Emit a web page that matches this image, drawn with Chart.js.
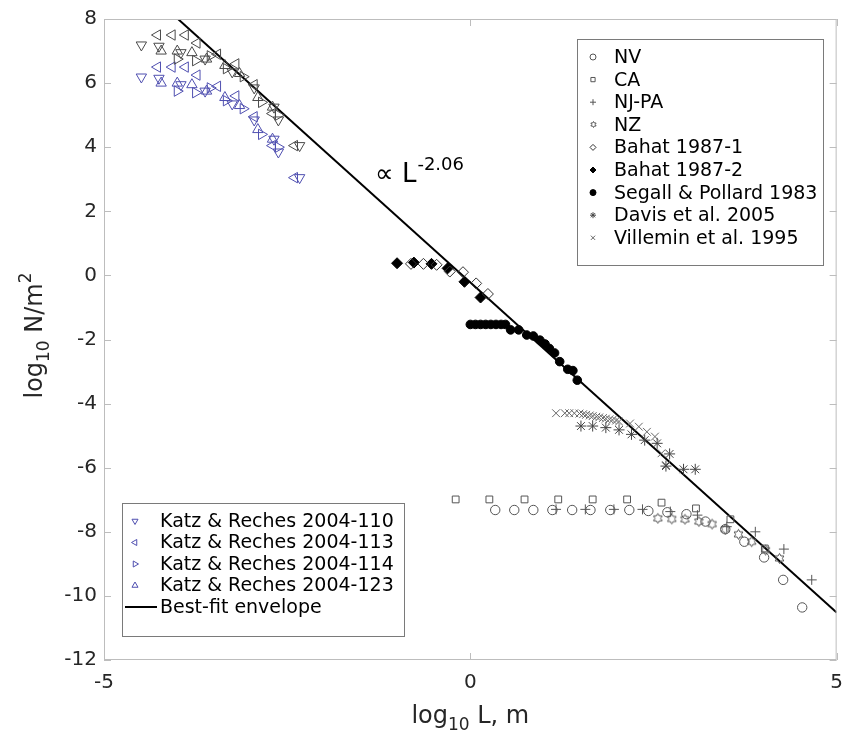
<!DOCTYPE html>
<html>
<head>
<meta charset="utf-8">
<script src="https://cdn.jsdelivr.net/npm/chart.js@4.4.1/dist/chart.umd.min.js"></script>
<style>
  html, body { margin: 0; padding: 0; background: #fff; }
  #wrap { width: 854px; height: 733px; }
</style>
</head>
<body>
<div id="wrap"><canvas id="chart" width="854" height="733"></canvas></div>
<script>
// ===== Data: log10 L (m) vs log10 N/m^2 =====
const nvX = [0.34, 0.60, 0.86, 1.12, 1.39, 1.64, 1.91, 2.17, 2.43, 2.69, 2.95, 3.21, 3.48, 3.74, 4.01, 4.27, 4.53];
const nvY = [-7.32, -7.32, -7.32, -7.32, -7.32, -7.32, -7.32, -7.32, -7.35, -7.39, -7.45, -7.68, -7.92, -8.31, -8.80, -9.50, -10.36];

const caX = [-0.20, 0.26, 0.74, 1.20, 1.67, 2.14, 2.61, 3.08, 3.55, 4.02];
const caY = [-6.99, -6.99, -6.99, -6.99, -6.99, -6.99, -7.09, -7.27, -7.61, -8.52];

const njX = [1.17, 1.57, 1.96, 2.35, 2.73, 3.10, 3.50, 3.89, 4.28, 4.66];
const njY = [-7.30, -7.30, -7.30, -7.30, -7.37, -7.48, -7.84, -8.00, -8.54, -9.50];

const nzX = [2.56, 2.75, 2.93, 3.12, 3.30, 3.48, 3.66, 3.84, 4.03, 4.22];
const nzY = [-7.58, -7.60, -7.61, -7.68, -7.76, -7.92, -8.08, -8.31, -8.57, -8.83];

const bahat1X = [-0.81, -0.64, -0.46, -0.28, -0.10, 0.08, 0.24];
const bahat1Y = [0.36, 0.36, 0.33, 0.12, 0.10, -0.25, -0.58];

const bahat2X = [-1.00, -0.77, -0.53, -0.31, -0.08, 0.14];
const bahat2Y = [0.38, 0.40, 0.36, 0.22, -0.20, -0.69];

const segallX = [0.00, 0.07, 0.14, 0.21, 0.28, 0.35, 0.42, 0.48, 0.55, 0.66, 0.77, 0.86, 0.95, 1.02, 1.08, 1.15, 1.22, 1.33, 1.40, 1.46];
const segallY = [-1.53, -1.53, -1.53, -1.53, -1.53, -1.53, -1.53, -1.53, -1.70, -1.70, -1.86, -1.89, -2.02, -2.14, -2.28, -2.42, -2.69, -2.93, -2.97, -3.27];

const davisX = [1.51, 1.67, 1.85, 2.03, 2.20, 2.38, 2.55, 2.72, 2.67, 2.91, 3.07];
const davisY = [-4.70, -4.70, -4.75, -4.82, -4.96, -5.14, -5.24, -5.57, -5.95, -6.05, -6.05];

const villeminX = [1.17, 1.29, 1.35, 1.42, 1.49, 1.54, 1.58, 1.63, 1.67, 1.72, 1.76, 1.81, 1.85, 1.90, 1.94, 1.99, 2.03, 2.18, 2.30, 2.41, 2.52, 2.61, 2.67];
const villeminY = [-4.30, -4.30, -4.30, -4.30, -4.31, -4.33, -4.35, -4.37, -4.39, -4.41, -4.43, -4.45, -4.47, -4.49, -4.51, -4.53, -4.56, -4.62, -4.72, -4.88, -5.03, -5.55, -5.92];

// Katz & Reches: blue points and the grey (upper) copies
const k110X = [-4.49, -4.25, -3.95, -3.62, -3.25, -2.95, -2.68, -2.62, -2.33];
const k110Grey = [7.19, 7.15, 6.95, 6.75, 6.35, 5.85, 5.25, 4.85, 4.05];
const k110Blue = [6.19, 6.15, 5.95, 5.75, 5.35, 4.85, 4.25, 3.85, 3.05];

const k113X = [-4.27, -4.07, -3.89, -3.73, -3.45, -3.20, -2.95, -2.70, -2.40];
const k113Grey = [7.50, 7.50, 7.50, 7.25, 6.90, 6.60, 5.95, 5.05, 4.05];
const k113Blue = [6.50, 6.50, 6.50, 6.25, 5.90, 5.60, 4.95, 4.05, 3.05];

const k114X = [-4.00, -3.75, -3.55, -3.33, -3.10, -2.85, -2.62];
const k114Grey = [6.75, 6.70, 6.85, 6.45, 6.20, 5.40, 5.00];
const k114Blue = [5.75, 5.70, 5.85, 5.45, 5.20, 4.40, 4.00];

const k123X = [-4.22, -4.00, -3.80, -3.60, -3.35, -3.15, -2.90, -2.70];
const k123Grey = [7.00, 7.00, 6.95, 6.75, 6.55, 6.30, 5.55, 5.25];
const k123Blue = [6.00, 6.00, 5.95, 5.75, 5.55, 5.30, 4.55, 4.25];

// best-fit envelope end points, slope -2.06
const fitX = [-3.99, 5.00];
const fitY = [8.00, -10.52];

const xTicks = [-5, 0, 5];
const yTicks = [-12, -10, -8, -6, -4, -2, 0, 2, 4, 6, 8];

// ===== Helpers =====
const FONT = '"DejaVu Sans", "Liberation Sans", Arial, sans-serif';
const GREY = '#555555';
const BLUE = '#4f4fb0';
const NONE = 'rgba(0,0,0,0)';

const pts = (xs, ys) => xs.map((x, i) => ({ x: x, y: ys[i] }));

function hexagram(r, color) {
    const s = Math.ceil(r * 2 + 3);
    const c = document.createElement('canvas');
    c.width = s; c.height = s;
    const g = c.getContext('2d');
    g.strokeStyle = color;
    g.lineWidth = 1;
    g.beginPath();
    for (let i = 0; i < 12; i++) {
        const a = -Math.PI / 2 + i * Math.PI / 6;
        const rr = i % 2 ? r / Math.sqrt(3) : r;
        const px = s / 2 + rr * Math.cos(a), py = s / 2 + rr * Math.sin(a);
        i ? g.lineTo(px, py) : g.moveTo(px, py);
    }
    g.closePath();
    g.stroke();
    return c;
}

function series(label, xs, ys, style, opts) {
    return Object.assign({
        label: label,
        data: pts(xs, ys),
        showLine: false,
        pointStyle: style,
        pointRadius: 5,
        pointHoverRadius: 5,
        pointBorderWidth: 1,
        pointBorderColor: GREY,
        pointBackgroundColor: NONE,
        pointRotation: 0
    }, opts || {});
}

const datasets = [
    series('Katz & Reches 2004-110 (grey)', k110X, k110Grey, 'triangle', { pointRotation: 180, pointRadius: 6, pointBorderColor: '#4a4a4a' }),
    series('Katz & Reches 2004-113 (grey)', k113X, k113Grey, 'triangle', { pointRotation: 270, pointRadius: 6, pointBorderColor: '#4a4a4a' }),
    series('Katz & Reches 2004-114 (grey)', k114X, k114Grey, 'triangle', { pointRotation: 90, pointRadius: 6, pointBorderColor: '#4a4a4a' }),
    series('Katz & Reches 2004-123 (grey)', k123X, k123Grey, 'triangle', { pointRadius: 6, pointBorderColor: '#4a4a4a' }),
    series('Katz & Reches 2004-110', k110X, k110Blue, 'triangle', { pointRotation: 180, pointRadius: 6, pointBorderColor: BLUE }),
    series('Katz & Reches 2004-113', k113X, k113Blue, 'triangle', { pointRotation: 270, pointRadius: 6, pointBorderColor: BLUE }),
    series('Katz & Reches 2004-114', k114X, k114Blue, 'triangle', { pointRotation: 90, pointRadius: 6, pointBorderColor: BLUE }),
    series('Katz & Reches 2004-123', k123X, k123Blue, 'triangle', { pointRadius: 6, pointBorderColor: BLUE }),
    series('NV', nvX, nvY, 'circle', { pointRadius: 4.7 }),
    series('CA', caX, caY, 'rect', { pointRadius: 4.8 }),
    series('NJ-PA', njX, njY, 'cross', { pointRadius: 5 }),
    series('NZ', nzX, nzY, hexagram(5, GREY)),
    series('Bahat 1987-1', bahat1X, bahat1Y, 'rectRot', { pointRadius: 5.5, pointBorderColor: '#333' }),
    series('Bahat 1987-2', bahat2X, bahat2Y, 'rectRot', { pointRadius: 5.5, pointBorderColor: '#000', pointBackgroundColor: '#000' }),
    series('Segall & Pollard 1983', segallX, segallY, 'circle', { pointRadius: 4.3, pointBorderColor: '#000', pointBackgroundColor: '#000' }),
    series('Davis et al. 2005', davisX, davisY, 'star', { pointRadius: 5.5, pointBorderColor: '#444' }),
    series('Villemin et al. 1995', villeminX, villeminY, 'crossRot', { pointRadius: 5.5, pointBorderColor: '#666' }),
    {
        label: 'Best-fit envelope',
        data: pts(fitX, fitY),
        showLine: true,
        borderColor: '#000',
        borderWidth: 2,
        pointRadius: 0,
        fill: false
    }
];

// ===== Legends, frame, titles =====
const legendRight = [
    { t: 'NV', s: 'circle', c: GREY },
    { t: 'CA', s: 'rect', c: GREY },
    { t: 'NJ-PA', s: 'cross', c: GREY },
    { t: 'NZ', s: 'hex', c: GREY },
    { t: 'Bahat 1987-1', s: 'rectRot', c: '#333' },
    { t: 'Bahat 1987-2', s: 'rectRot', c: '#000', fill: true },
    { t: 'Segall & Pollard 1983', s: 'circle', c: '#000', fill: true },
    { t: 'Davis et al. 2005', s: 'star', c: '#444' },
    { t: 'Villemin et al. 1995', s: 'crossRot', c: '#666' }
];
const legendLeft = [
    { t: 'Katz & Reches 2004-110', s: 'triangle', r: 180, c: BLUE },
    { t: 'Katz & Reches 2004-113', s: 'triangle', r: 270, c: BLUE },
    { t: 'Katz & Reches 2004-114', s: 'triangle', r: 90, c: BLUE },
    { t: 'Katz & Reches 2004-123', s: 'triangle', r: 0, c: BLUE },
    { t: 'Best-fit envelope', s: 'line', c: '#000' }
];

function marker(ctx, it, x, y, size) {
    ctx.save();
    ctx.strokeStyle = it.c;
    ctx.fillStyle = it.fill ? it.c : NONE;
    ctx.lineWidth = 1;
    if (it.s === 'line') {
        ctx.lineWidth = 2;
        ctx.beginPath(); ctx.moveTo(x - 16, y); ctx.lineTo(x + 16, y); ctx.stroke();
    } else if (it.s === 'hex') {
        const h = hexagram(size, it.c);
        ctx.drawImage(h, Math.round(x - h.width / 2), Math.round(y - h.height / 2));
    } else {
        Chart.helpers.drawPoint(ctx, { pointStyle: it.s, radius: size, rotation: it.r || 0, borderWidth: 1 }, x, y);
    }
    ctx.restore();
}

function drawLegend(ctx, box, items, mx, tx, y0, dy, size, font) {
    ctx.save();
    ctx.fillStyle = '#fff';
    ctx.fillRect(box.x, box.y, box.w, box.h);
    ctx.strokeStyle = '#7a7a7a';
    ctx.lineWidth = 1;
    ctx.strokeRect(box.x + 0.5, box.y + 0.5, box.w, box.h);
    ctx.font = font;
    ctx.textBaseline = 'middle';
    items.forEach((it, i) => {
        const y = y0 + i * dy;
        marker(ctx, it, it.s === 'line' ? mx + 6 : mx, y, size);
        ctx.fillStyle = '#000';
        ctx.fillText(it.t, tx, y + 1);
    });
    ctx.restore();
}

// text with sub/superscript parts, centred on x
function richText(ctx, parts, x, y) {
    let w = 0;
    parts.forEach(p => { ctx.font = p.s + 'px ' + FONT; w += ctx.measureText(p.t).width; });
    let cx = x - w / 2;
    parts.forEach(p => {
        ctx.font = p.s + 'px ' + FONT;
        ctx.fillText(p.t, cx, y + (p.dy || 0));
        cx += ctx.measureText(p.t).width;
    });
}

const decorations = {
    id: 'decorations',
    afterDraw(chart) {
        const ctx = chart.ctx;
        const a = chart.chartArea;
        const xs = chart.scales.x, ys = chart.scales.y;
        ctx.save();
        // axes box with inward ticks
        ctx.strokeStyle = '#bdbdbd';
        ctx.lineWidth = 1;
        ctx.strokeRect(a.left + 0.5, a.top + 0.5, a.right - a.left - 1, a.bottom - a.top - 1);
        ctx.beginPath();
        yTicks.forEach(v => {
            const py = Math.round(ys.getPixelForValue(v)) + 0.5;
            ctx.moveTo(a.left, py); ctx.lineTo(a.left + 7, py);
            ctx.moveTo(a.right, py); ctx.lineTo(a.right - 7, py);
        });
        xTicks.forEach(v => {
            const px = Math.round(xs.getPixelForValue(v)) + 0.5;
            ctx.moveTo(px, a.bottom); ctx.lineTo(px, a.bottom - 7);
            ctx.moveTo(px, a.top); ctx.lineTo(px, a.top + 7);
        });
        ctx.stroke();

        // axis titles
        ctx.fillStyle = '#262626';
        ctx.textBaseline = 'alphabetic';
        richText(ctx, [{ t: 'log', s: 24 }, { t: '10', s: 17, dy: 7 }, { t: ' L, m', s: 24 }], (a.left + a.right) / 2, 723);
        ctx.save();
        ctx.translate(42, (a.top + a.bottom) / 2 - 4);
        ctx.rotate(-Math.PI / 2);
        richText(ctx, [{ t: 'log', s: 24 }, { t: '10', s: 17, dy: 7 }, { t: ' N/m', s: 24 }, { t: '2', s: 17, dy: -11 }], 0, 0);
        ctx.restore();

        // slope annotation
        ctx.fillStyle = '#000';
        const ax = xs.getPixelForValue(-1.3), ay = ys.getPixelForValue(2.9);
        ctx.font = '26px ' + FONT;
        ctx.fillText('\u221D L', ax, ay);
        const w = ctx.measureText('\u221D L').width;
        ctx.font = '18px ' + FONT;
        ctx.fillText('-2.06', ax + w + 1, ay - 12);
        ctx.restore();

        // legends
        drawLegend(ctx, { x: 577, y: 39, w: 246, h: 226 }, legendRight, 593, 614, 57, 22.6, 3, '19px ' + FONT);
        drawLegend(ctx, { x: 122, y: 503, w: 282, h: 133 }, legendLeft, 135, 160, 521, 21.5, 3.5, '19px ' + FONT);
    }
};

// ===== Chart =====
new Chart(document.getElementById('chart').getContext('2d'), {
    type: 'scatter',
    data: { datasets: datasets },
    options: {
        responsive: false,
        animation: false,
        events: [],
        layout: { padding: { top: 19, right: 6, left: 0, bottom: 0 } },
        plugins: {
            legend: { display: false },
            tooltip: { enabled: false }
        },
        scales: {
            x: {
                type: 'linear',
                min: -5, max: 5,
                border: { display: false },
                grid: { display: false, drawTicks: false },
                afterBuildTicks: s => { s.ticks = xTicks.map(v => ({ value: v })); },
                ticks: { color: '#262626', font: { family: FONT, size: 20 }, padding: 11, maxRotation: 0 },
                afterFit: s => { s.height = 73; }
            },
            y: {
                type: 'linear',
                min: -12, max: 8,
                border: { display: false },
                grid: { display: false, drawTicks: false },
                afterBuildTicks: s => { s.ticks = yTicks.map(v => ({ value: v })); },
                ticks: { color: '#262626', font: { family: FONT, size: 20 }, padding: 7 },
                afterFit: s => { s.width = 104; }
            }
        }
    },
    plugins: [decorations]
});
</script>
</body>
</html>
